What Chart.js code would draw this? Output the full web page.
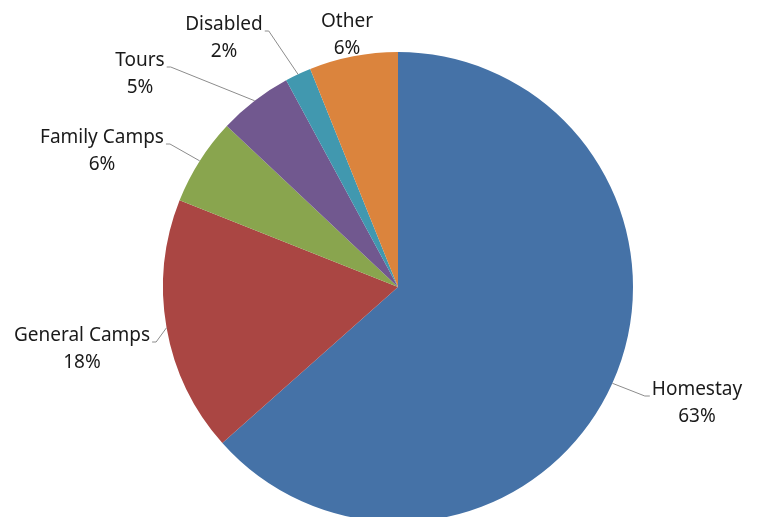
<!DOCTYPE html>
<html>
<head>
<meta charset="utf-8">
<script src="https://cdn.jsdelivr.net/npm/chart.js@4"></script>
<style>
  html, body { margin:0; padding:0; background:#fff; overflow:hidden; }
  #wrap { position:absolute; left:0; top:0; width:757px; height:540px; }
</style>
</head>
<body>
<div id="wrap"><canvas id="pieChart"></canvas></div>
<script>
// pie data (percent shares)
const categories = ['Homestay', 'General Camps', 'Family Camps', 'Tours', 'Disabled', 'Other'];
const shares = [63.5, 17.6, 6.0, 5.1, 1.8, 6.1];
const pctLabels = ['63%', '18%', '6%', '5%', '2%', '6%'];
const sliceColors = ['#4572a7', '#aa4643', '#89a54e', '#71588f', '#4198af', '#db843d'];

// where each label block sits (centre x, first line y) and which side the leader attaches
const labelLayout = [
  { x: 697, y: 390, side: 'left', leader: true },
  { x: 82,  y: 336, side: 'right', leader: true },
  { x: 102, y: 138, side: 'right', leader: true },
  { x: 140, y: 61,  side: 'right', leader: true },
  { x: 224, y: 25,  side: 'right', leader: true },
  { x: 347, y: 22,  side: 'right', leader: false }
];

const FONT = '19px "Noto Sans"';
const LINE_GAP = 27;

// draws the outside labels with their grey leader lines
const outsideLabels = {
  id: 'outsideLabels',
  afterDraw(chart) {
    const ctx = chart.ctx;
    const arcs = chart.getDatasetMeta(0).data;
    ctx.save();
    ctx.font = FONT;
    ctx.textBaseline = 'middle';
    ctx.textAlign = 'center';
    arcs.forEach((arc, i) => {
      const p = arc.getProps(['x', 'y', 'startAngle', 'endAngle', 'outerRadius'], true);
      const mid = (p.startAngle + p.endAngle) / 2;
      const ex = p.x + Math.cos(mid) * p.outerRadius;
      const ey = p.y + Math.sin(mid) * p.outerRadius;
      const lay = labelLayout[i];
      const w = ctx.measureText(categories[i]).width;

      if (lay.leader) {
        const ly = lay.y + 6;
        let hx0, hx1;
        if (lay.side === 'right') { hx0 = lay.x + w / 2 + 2; hx1 = hx0 + 4; }
        else { hx0 = lay.x - w / 2 - 2; hx1 = hx0 - 5; }
        ctx.strokeStyle = '#8c8c8c';
        ctx.lineWidth = 1;
        ctx.beginPath();
        ctx.moveTo(hx0, ly);
        ctx.lineTo(hx1, ly);
        ctx.lineTo(ex, ey);
        ctx.stroke();
      }

      ctx.fillStyle = '#1a1a1a';
      ctx.fillText(categories[i], lay.x, lay.y);
      ctx.fillText(pctLabels[i], lay.x, lay.y + LINE_GAP);
    });
    ctx.restore();
  }
};

const ctx = document.getElementById('pieChart').getContext('2d');
new Chart(ctx, {
  type: 'pie',
  data: {
    labels: categories,
    datasets: [{
      data: shares,
      backgroundColor: sliceColors,
      borderWidth: 0
    }]
  },
  options: {
    responsive: true,
    maintainAspectRatio: false,
    animation: false,
    layout: { padding: { top: 52, left: 163, right: 124, bottom: 18 } },
    plugins: {
      legend: { display: false },
      tooltip: { enabled: false }
    }
  },
  plugins: [outsideLabels]
});
</script>
</body>
</html>
